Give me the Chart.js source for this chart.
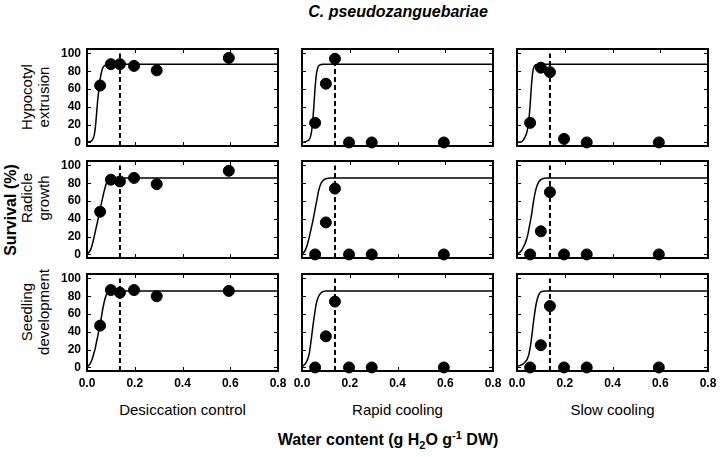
<!DOCTYPE html>
<html>
<head>
<meta charset="utf-8">
<script src="https://cdn.jsdelivr.net/npm/chart.js@4.4.0/dist/chart.umd.min.js"></script>
<style>
  body { margin: 0; background: #fff; font-family: "Liberation Sans", Arial, sans-serif; }
  #fig { position: relative; width: 720px; height: 457px; overflow: hidden; }
  #fig canvas { position: absolute; }
  .txt { position: absolute; white-space: nowrap; color: #000; transform: translate(-50%, -50%); }
  .rot { transform: translate(-50%, -50%) rotate(-90deg); text-align: center; }
  .title { font-size: 16px; font-weight: bold; font-style: italic; }
  .big { font-size: 16px; font-weight: bold; }
  .lab { font-size: 15px; }
  .rowlab { font-size: 15px; line-height: 17px; }
  sub, sup { font-size: 11px; }
</style>
</head>
<body>
<div id="fig">
  <div class="txt title" style="left:398px; top:12px;">C. pseudozanguebariae</div>
  <div class="txt rot big" style="left:11px; top:210px;">Survival (%)</div>
  <div class="txt big" style="left:388px; top:440px;">Water content (g H<sub>2</sub>O g<sup>-1</sup> DW)</div>
</div>
<script>
// water content of the seed samples (g H2O g-1 DW)
const waterContent = [0.055, 0.10, 0.138, 0.197, 0.292, 0.594];
const criticalWater = 0.138;
const xTicks = [0, 0.2, 0.4, 0.6, 0.8];
const yTicks = [0, 20, 40, 60, 80, 100];

const treatments = ["Desiccation control", "Rapid cooling", "Slow cooling"];
const stages = [["Hypocotyl", "extrusion"], ["Radicle", "growth"], ["Seedling", "development"]];

// observed survival (%)
const hypocotylControl = [64, 88, 88, 86, 81, 95];
const hypocotylRapid   = [22, 66, 94, 0, 0, 0];
const hypocotylSlow    = [22, 84, 79, 4, 0, 0];
const radicleControl   = [48, 84, 82, 86, 79, 94];
const radicleRapid     = [0, 36, 74, 0, 0, 0];
const radicleSlow      = [0, 26, 70, 0, 0, 0];
const seedlingControl  = [47, 87, 84, 87, 80, 86];
const seedlingRapid    = [0, 35, 74, 0, 0, 0];
const seedlingSlow     = [0, 25, 69, 0, 0, 0];

// fitted curves at these water contents
const fitX = [0, 0.01, 0.02, 0.03, 0.035, 0.04, 0.045, 0.05, 0.055, 0.06, 0.065, 0.07, 0.08, 0.09, 0.1, 0.12, 0.8];
const hypocotylControlFit = [0.5, 1, 2, 8, 17, 32, 48, 60, 71, 78, 83, 85.5, 87, 87.7, 88, 88, 88];
const hypocotylRapidFit   = [0, 0.5, 1.5, 3, 6, 12, 24, 42, 62, 76, 83, 86, 87.5, 88, 88, 88, 88];
const hypocotylSlowFit    = [0, 0.5, 1, 4, 7, 10, 16, 26, 42, 62, 77, 84, 87.5, 88, 88, 88, 88];
const radicleControlFit   = [0.5, 3, 9, 20, 26, 32, 38, 44, 50, 57, 63, 69, 79, 84, 85.5, 86, 86];
const radicleRapidFit     = [0.5, 3, 9, 19, 25, 31, 37, 44, 51, 58, 65, 72, 80, 83.5, 85, 86, 86];
const radicleSlowFit      = [1, 2, 5, 10, 13, 17, 22, 29, 36, 43, 52, 61, 74, 81, 84, 86, 86];
const seedlingControlFit  = [0.5, 3, 8, 17, 22, 29, 35, 42, 49, 56, 64, 71, 81, 85, 86, 86, 86];
const seedlingRapidFit    = [1, 3, 7, 15, 24, 34, 45, 55, 64, 72, 77, 80, 84, 85.5, 86, 86, 86];
const seedlingSlowFit     = [1, 2, 3, 5, 6.5, 8, 11, 15, 22, 31, 42, 53, 71, 81, 85, 86, 86];

const observed = [
  [hypocotylControl, hypocotylRapid, hypocotylSlow],
  [radicleControl, radicleRapid, radicleSlow],
  [seedlingControl, seedlingRapid, seedlingSlow]
];
const fitted = [
  [hypocotylControlFit, hypocotylRapidFit, hypocotylSlowFit],
  [radicleControlFit, radicleRapidFit, radicleSlowFit],
  [seedlingControlFit, seedlingRapidFit, seedlingSlowFit]
];

// panel layout (px)
const plotLeft = [87, 302, 517];
const plotTop = [49, 161, 274];
const plotW = 191, plotH = 97;
const padL = 44, padT = 14, padR = 16, padB = 26;

// box round the plot with inward tick marks on all four sides
const framePlugin = {
  id: 'frame',
  beforeDatasetsDraw(chart) {
    const ctx = chart.ctx, a = chart.chartArea;
    const xs = chart.scales.x, ys = chart.scales.y;
    ctx.save();
    ctx.strokeStyle = '#000';
    ctx.lineWidth = 1;
    xTicks.forEach(v => {
      const px = Math.round(xs.getPixelForValue(v)) + 0.5;
      ctx.beginPath();
      ctx.moveTo(px, a.top); ctx.lineTo(px, a.top + 4);
      ctx.moveTo(px, a.bottom); ctx.lineTo(px, a.bottom - 4);
      ctx.stroke();
    });
    yTicks.forEach(v => {
      const py = Math.round(ys.getPixelForValue(v)) + 0.5;
      ctx.beginPath();
      ctx.moveTo(a.left, py); ctx.lineTo(a.left + 4, py);
      ctx.moveTo(a.right, py); ctx.lineTo(a.right - 4, py);
      ctx.stroke();
    });
    ctx.lineWidth = 2;
    ctx.strokeRect(a.left, a.top, a.right - a.left, a.bottom - a.top);
    ctx.restore();
  }
};

const fig = document.getElementById('fig');

function addText(cls, html, x, y) {
  const d = document.createElement('div');
  d.className = 'txt ' + cls;
  d.innerHTML = html;
  d.style.left = x + 'px';
  d.style.top = y + 'px';
  fig.appendChild(d);
}

treatments.forEach((t, c) => addText('lab', t, plotLeft[c] + plotW / 2, 409));
const rowLabelY = [97, 198, 312];
stages.forEach((s, r) => addText('rot rowlab', s.join('<br>'), 35, rowLabelY[r]));

for (let r = 0; r < 3; r++) {
  for (let c = 0; c < 3; c++) {
    const cv = document.createElement('canvas');
    cv.width = plotW + padL + padR;
    cv.height = plotH + padT + padB;
    cv.style.left = (plotLeft[c] - padL) + 'px';
    cv.style.top = (plotTop[r] - padT) + 'px';
    fig.appendChild(cv);

    const points = waterContent.map((x, i) => ({x: x, y: observed[r][c][i]}));
    const curve = fitX.map((x, i) => ({x: x, y: fitted[r][c][i]}));

    new Chart(cv, {
      type: 'scatter',
      data: {
        datasets: [
          {
            data: points,
            backgroundColor: '#000',
            borderColor: '#000',
            pointRadius: 5.5,
            pointHoverRadius: 5.5,
            showLine: false,
            clip: false,
            order: 0
          },
          {
            data: curve,
            showLine: true,
            borderColor: '#000',
            borderWidth: 1.5,
            pointRadius: 0,
            cubicInterpolationMode: 'monotone',
            order: 1
          },
          {
            data: [{x: criticalWater, y: -4}, {x: criticalWater, y: 100}],
            showLine: true,
            borderColor: '#000',
            borderWidth: 2,
            borderDash: [5, 3],
            pointRadius: 0,
            order: 2
          }
        ]
      },
      options: {
        responsive: false,
        animation: false,
        devicePixelRatio: 1,
        layout: { padding: { left: 0, top: padT, right: padR, bottom: 0 } },
        plugins: { legend: { display: false }, tooltip: { enabled: false } },
        scales: {
          x: {
            type: 'linear',
            min: 0,
            max: 0.8,
            grid: { display: false, drawTicks: false },
            border: { display: false },
            afterBuildTicks: s => { s.ticks = xTicks.map(v => ({value: v})); },
            afterFit: s => { s.height = padB; },
            ticks: {
              display: r === 2,
              padding: 5,
              color: '#000',
              font: { family: 'Liberation Sans', size: 12, weight: 'bold' },
              callback: v => v.toFixed(1)
            }
          },
          y: {
            min: -4,
            max: 105,
            grid: { display: false, drawTicks: false },
            border: { display: false },
            afterBuildTicks: s => { s.ticks = yTicks.map(v => ({value: v})); },
            afterFit: s => { s.width = padL; },
            ticks: {
              display: c === 0,
              padding: 6,
              color: '#000',
              font: { family: 'Liberation Sans', size: 12, weight: 'bold' }
            }
          }
        }
      },
      plugins: [framePlugin]
    });
  }
}
</script>
</body>
</html>
